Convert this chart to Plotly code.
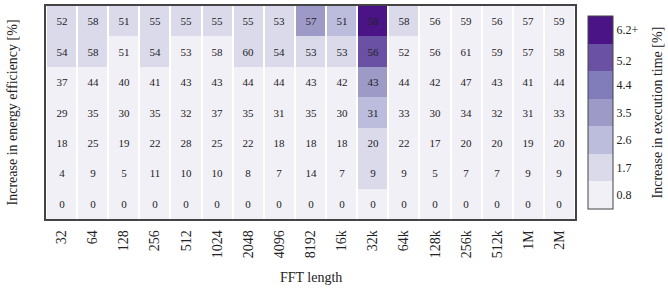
import plotly.graph_objects as go

fft_lengths = ["32", "64", "128", "256", "512", "1024", "2048", "4096", "8192",
               "16k", "32k", "64k", "128k", "256k", "512k", "1M", "2M"]
rows = [0, 1, 2, 3, 4, 5, 6]

# Increase in energy efficiency [%] (cell labels), top row first
energy_eff = [
    [52, 58, 51, 55, 55, 55, 55, 53, 57, 51, 58, 58, 56, 59, 56, 57, 59],
    [54, 58, 51, 54, 53, 58, 60, 54, 53, 53, 56, 52, 56, 61, 59, 57, 58],
    [37, 44, 40, 41, 43, 43, 44, 44, 43, 42, 43, 44, 42, 47, 43, 41, 44],
    [29, 35, 30, 35, 32, 37, 35, 31, 35, 30, 31, 33, 30, 34, 32, 31, 33],
    [18, 25, 19, 22, 28, 25, 22, 18, 18, 18, 20, 22, 17, 20, 20, 19, 20],
    [4, 9, 5, 11, 10, 10, 8, 7, 14, 7, 9, 9, 5, 7, 7, 9, 9],
    [0, 0, 0, 0, 0, 0, 0, 0, 0, 0, 0, 0, 0, 0, 0, 0, 0],
]

# Increase in execution time [%] (cell colours), top row first
exec_time = [
    [1.7, 1.7, 1.7, 1.7, 1.7, 1.7, 1.7, 1.7, 3.5, 2.6, 6.2, 1.7, 0.8, 0.8, 0.8, 0.8, 0.8],
    [1.7, 1.7, 0.8, 1.7, 0.8, 0.8, 1.7, 1.7, 1.7, 1.7, 5.2, 0.8, 0.8, 0.8, 0.8, 0.8, 0.8],
    [0.8, 0.8, 0.8, 0.8, 0.8, 0.8, 0.8, 0.8, 0.8, 0.8, 3.5, 0.8, 0.8, 0.8, 0.8, 0.8, 0.8],
    [0.8, 0.8, 0.8, 0.8, 0.8, 0.8, 0.8, 0.8, 0.8, 0.8, 2.6, 0.8, 0.8, 0.8, 0.8, 0.8, 0.8],
    [0.8, 0.8, 0.8, 0.8, 0.8, 0.8, 0.8, 0.8, 0.8, 0.8, 1.7, 0.8, 0.8, 0.8, 0.8, 0.8, 0.8],
    [0.8, 0.8, 0.8, 0.8, 0.8, 0.8, 0.8, 0.8, 0.8, 0.8, 1.7, 0.8, 0.8, 0.8, 0.8, 0.8, 0.8],
    [0.8, 0.8, 0.8, 0.8, 0.8, 0.8, 0.8, 0.8, 0.8, 0.8, 0.8, 0.8, 0.8, 0.8, 0.8, 0.8, 0.8],
]

cbar_vals = [0.8, 1.7, 2.6, 3.5, 4.4, 5.2, 6.2]
cbar_text = ["0.8", "1.7", "2.6", "3.5", "4.4", "5.2", "6.2+"]
colors = ['#f2f0f7', '#dadaeb', '#bcbddc', '#9e9ac8', '#807dba', '#6a51a3', '#4a1486']

n = len(colors)
cscale = []
for i, c in enumerate(colors):
    cscale.append([i / n, c])
    cscale.append([(i + 1) / n, c])

FONT = "Liberation Serif, Times New Roman, serif"

fig = go.Figure(go.Heatmap(
    z=exec_time,
    x=fft_lengths,
    y=rows,
    text=energy_eff,
    texttemplate="%{text}",
    textfont=dict(family=FONT, size=11, color="#222222"),
    colorscale=cscale,
    zmin=0.35, zmax=6.65,
    xgap=2, ygap=0,
    colorbar=dict(
        tickvals=cbar_vals, ticktext=cbar_text,
        tickfont=dict(family=FONT, size=12, color="#222"),
        ticks="", ticklen=0,
        thickness=25, thicknessmode="pixels",
        len=1, lenmode="fraction", y=0.5, yanchor="middle",
        x=1.025, xanchor="left", xpad=0,
        outlinewidth=1, outlinecolor="#444",
    ),
    hoverinfo="skip",
))

fig.update_layout(
    width=668, height=289,
    margin=dict(l=46, r=93, t=6, b=70, autoexpand=False),
    paper_bgcolor="white", plot_bgcolor="white",
    font=dict(family=FONT, color="#222"),
    annotations=[
        dict(text="Increase in execution time [%]", xref="paper", yref="paper",
             x=1 + 82 / 529, y=0.5, textangle=-90, showarrow=False,
             xanchor="center", yanchor="middle",
             font=dict(family=FONT, size=14, color="#222")),
        dict(text="Increase in energy efficiency [%]", xref="paper", yref="paper",
             x=-34 / 529, y=0.5, textangle=-90, showarrow=False,
             xanchor="center", yanchor="middle",
             font=dict(family=FONT, size=14, color="#222")),
        dict(text="FFT length", xref="paper", yref="paper",
             x=0.5, y=-58 / 213, showarrow=False,
             xanchor="center", yanchor="middle",
             font=dict(family=FONT, size=14, color="#222")),
    ],
)
fig.update_xaxes(
    tickangle=-90, tickfont=dict(family=FONT, size=14),
    showline=True, mirror=True, linecolor="#444", linewidth=1.5,
    ticks="", showgrid=False, automargin=False, ticklabelstandoff=4,
)
fig.update_yaxes(
    autorange="reversed", showticklabels=False, ticks="",
    showline=True, mirror=True, linecolor="#444", linewidth=1.5,
    showgrid=False, zeroline=False, automargin=False,
)

fig.write_html("out.html", config={"displayModeBar": False},
               post_script="document.body.style.margin='0px';")
